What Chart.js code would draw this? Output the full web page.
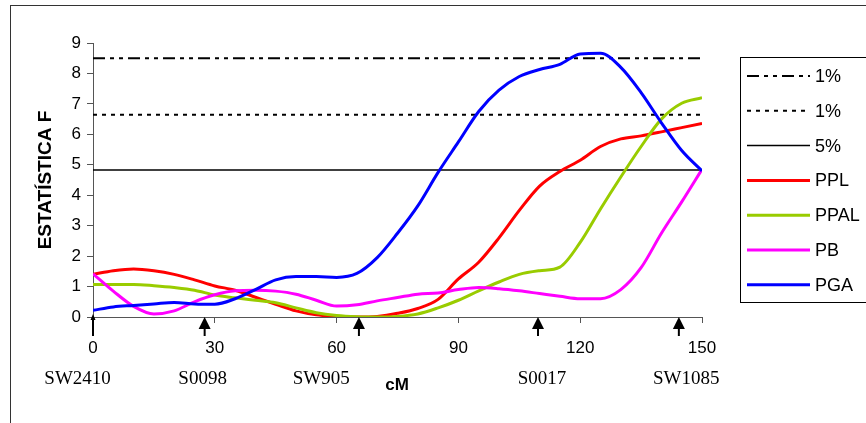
<!DOCTYPE html>
<html>
<head>
<meta charset="utf-8">
<script src="https://cdn.jsdelivr.net/npm/chart.js@4"></script>
<style>
  body { margin: 0; background: #fff; }
  #wrap { width: 866px; height: 423px; }
</style>
</head>
<body>
<div id="wrap"><canvas id="qtlChart" width="866" height="423"></canvas></div>
<script>
// positions along the chromosome (cM)
const cM = [0, 5, 10, 15, 20, 25, 30, 35, 40, 45, 50, 55, 60, 65, 70, 75, 80, 85, 90, 95, 100, 105, 110, 115, 120, 125, 130, 135, 140, 145, 150];

// F statistic per trait
const ppl  = [1.40, 1.52, 1.58, 1.52, 1.40, 1.22, 1.02, 0.88, 0.65, 0.42, 0.20, 0.07, 0.02, 0.00, 0.02, 0.12, 0.28, 0.58, 1.25, 1.80, 2.60, 3.50, 4.30, 4.78, 5.15, 5.60, 5.85, 5.95, 6.08, 6.22, 6.36];
const ppal = [1.07, 1.07, 1.07, 1.03, 0.97, 0.88, 0.72, 0.63, 0.55, 0.47, 0.30, 0.14, 0.05, 0.01, 0.00, 0.02, 0.10, 0.30, 0.55, 0.86, 1.15, 1.40, 1.52, 1.64, 2.45, 3.55, 4.60, 5.60, 6.50, 7.02, 7.20];
const pb   = [1.42, 0.85, 0.35, 0.10, 0.20, 0.50, 0.73, 0.86, 0.88, 0.85, 0.75, 0.55, 0.36, 0.40, 0.53, 0.64, 0.75, 0.79, 0.90, 0.97, 0.93, 0.86, 0.77, 0.68, 0.60, 0.60, 0.90, 1.62, 2.75, 3.78, 4.85];
const pga  = [0.22, 0.33, 0.38, 0.43, 0.48, 0.43, 0.42, 0.60, 0.90, 1.22, 1.33, 1.33, 1.30, 1.43, 1.95, 2.75, 3.65, 4.75, 5.75, 6.75, 7.45, 7.90, 8.13, 8.30, 8.64, 8.66, 8.20, 7.37, 6.38, 5.47, 4.80];

// significance thresholds
const thresholds = [8.5, 6.64, 4.83];
const thresholdLabels = ['1%', '1%', '5%'];

// markers on the chromosome
const markerCM = [0, 27.5, 65.5, 109.6, 144.3];
const markerNames = ['SW2410', 'S0098', 'SW905', 'S0017', 'SW1085'];
const markerLabelCM = [-3.8, 27, 56.2, 110.6, 146.1];

const xTickStep = 30;
const yTickStep = 1;

function pts(ys) {
    return ys.map(function(y, i) { return { x: cM[i], y: y }; });
}
function flat(v) {
    return [{ x: cM[0], y: v }, { x: cM[cM.length - 1], y: v }];
}

const thresholdDash = [[12, 5, 4, 5, 4, 5], [4, 5], []];
const thresholdWidth = [2, 2, 1.5];

const datasets = [];
thresholds.forEach(function(t, i) {
    datasets.push({
        label: thresholdLabels[i],
        data: flat(t),
        borderColor: '#000',
        borderWidth: thresholdWidth[i],
        borderDash: thresholdDash[i],
        pointRadius: 0,
        order: 10 + i
    });
});
const traits = [
    { label: 'PPL', data: ppl, color: '#FF0000', order: 3 },
    { label: 'PPAL', data: ppal, color: '#99CC00', order: 2 },
    { label: 'PB', data: pb, color: '#FF00FF', order: 1 },
    { label: 'PGA', data: pga, color: '#0000FF', order: 0 }
];
traits.forEach(function(t) {
    datasets.push({
        label: t.label,
        data: pts(t.data),
        borderColor: t.color,
        borderWidth: 3,
        pointRadius: 0,
        cubicInterpolationMode: 'monotone',
        order: t.order
    });
});

// frame, legend, axis titles and marker arrows
const extras = {
    id: 'extras',
    beforeDraw: function(chart) {
        const c = chart.ctx;
        c.save();
        c.fillStyle = '#fff';
        c.fillRect(0, 0, chart.width, chart.height);
        c.strokeStyle = '#333';
        c.lineWidth = 1;
        c.strokeRect(10.5, 5.5, 900, 500);
        c.restore();
    },
    afterDraw: function(chart) {
        const c = chart.ctx;
        const xs = chart.scales.x;
        const ys = chart.scales.y;
        const y0 = ys.getPixelForValue(0);
        c.save();

        // arrows for marker positions
        c.fillStyle = '#000';
        c.strokeStyle = '#000';
        markerCM.forEach(function(m, i) {
            const px = xs.getPixelForValue(m);
            const small = i === 0;
            const hw = small ? 2.5 : 6;
            const hh = small ? 6 : 12;
            c.beginPath();
            c.moveTo(px, y0 - (small ? 3 : 0));
            c.lineTo(px - hw, y0 + hh - (small ? 3 : 0));
            c.lineTo(px + hw, y0 + hh - (small ? 3 : 0));
            c.closePath();
            c.fill();
            c.lineWidth = 2;
            c.beginPath();
            c.moveTo(px, y0 + hh - 3);
            c.lineTo(px, y0 + 19);
            c.stroke();
        });

        // marker names
        c.font = '19px "Liberation Serif", "Times New Roman", serif';
        c.textAlign = 'center';
        c.textBaseline = 'middle';
        markerNames.forEach(function(n, i) {
            c.fillText(n, xs.getPixelForValue(markerLabelCM[i]), 379);
        });

        // axis titles
        c.font = 'bold 17px "Liberation Sans", Arial, sans-serif';
        c.fillText('cM', 397, 385);
        c.save();
        c.translate(46, 180);
        c.rotate(-Math.PI / 2);
        c.font = 'bold 19px "Liberation Sans", Arial, sans-serif';
        c.fillText('ESTATÍSTICA F', 0, 0);
        c.restore();

        // legend box
        c.strokeStyle = '#000';
        c.lineWidth = 1;
        c.strokeRect(740.5, 57.5, 200, 245);
        c.font = '18px "Liberation Sans", Arial, sans-serif';
        c.textAlign = 'left';
        chart.data.datasets.forEach(function(ds, k) {
            const ly = 76 + k * 34.8;
            c.save();
            c.strokeStyle = ds.borderColor;
            c.lineWidth = ds.borderWidth;
            c.setLineDash(ds.borderDash || []);
            c.beginPath();
            c.moveTo(747, ly);
            c.lineTo(810, ly);
            c.stroke();
            c.restore();
            c.fillStyle = '#000';
            c.fillText(ds.label, 815, ly + 1);
        });
        c.restore();
    }
};

const ctx = document.getElementById('qtlChart').getContext('2d');
const qtlChart = new Chart(ctx, {
    type: 'line',
    data: { datasets: datasets },
    options: {
        responsive: false,
        animation: false,
        layout: { padding: { top: 43, right: 164, bottom: 61, left: 0 } },
        plugins: {
            legend: { display: false },
            tooltip: { enabled: false }
        },
        scales: {
            x: {
                type: 'linear',
                min: 0,
                max: 150,
                afterFit: function(s) { s.height = 45; },
                ticks: {
                    stepSize: xTickStep,
                    color: '#000',
                    padding: 15,
                    font: { family: '"Liberation Sans", Arial, sans-serif', size: 17 }
                },
                grid: {
                    drawOnChartArea: false,
                    tickLength: 6,
                    color: '#555'
                },
                border: { color: '#555', width: 1 }
            },
            y: {
                min: 0,
                max: 9,
                afterFit: function(s) { s.width = 93; },
                ticks: {
                    stepSize: yTickStep,
                    color: '#000',
                    padding: 6,
                    font: { family: '"Liberation Sans", Arial, sans-serif', size: 17 }
                },
                grid: {
                    drawOnChartArea: false,
                    tickLength: 6,
                    color: '#555'
                },
                border: { color: '#555', width: 1 }
            }
        }
    },
    plugins: [extras]
});
</script>
</body>
</html>
